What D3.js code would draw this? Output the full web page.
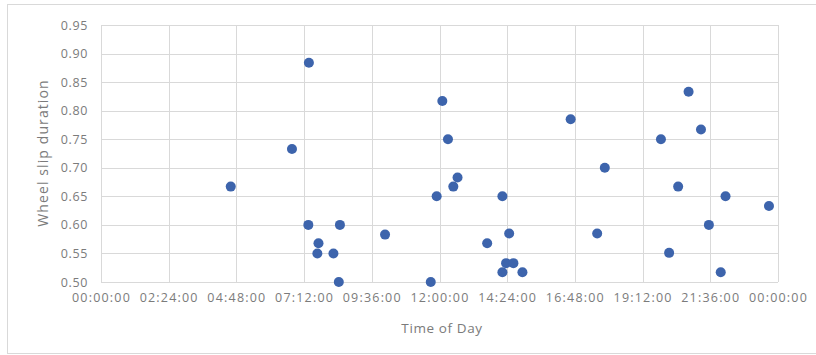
<!DOCTYPE html>
<html>
<head>
<meta charset="utf-8">
<script src="https://cdn.jsdelivr.net/npm/d3@7"></script>
<style>
  html, body { margin: 0; padding: 0; background: #fff; }
  text { font-family: "Open Sans", sans-serif; fill: #7b7b7b; }
</style>
</head>
<body>
<div id="chart"></div>
<script>
// time of day in hours, wheel slip duration
let hours = [4.6, 6.77, 7.37, 7.35, 7.71, 7.67, 8.24, 8.47, 8.43, 10.07,
    11.69, 11.9, 12.1, 12.3, 12.64, 12.49, 13.69, 14.23, 14.47, 14.36,
    14.62, 14.23, 14.94, 16.65, 17.59, 17.86, 19.85, 20.14, 20.46, 20.83,
    21.27, 21.55, 21.97, 22.14, 23.68];
let durations = [0.667, 0.733, 0.884, 0.60, 0.568, 0.55, 0.55, 0.60, 0.50, 0.583,
    0.50, 0.65, 0.817, 0.75, 0.683, 0.667, 0.568, 0.65, 0.585, 0.533,
    0.533, 0.517, 0.517, 0.785, 0.585, 0.70, 0.75, 0.551, 0.667, 0.833,
    0.767, 0.60, 0.517, 0.65, 0.633];
let xTicks = [0, 2.4, 4.8, 7.2, 9.6, 12, 14.4, 16.8, 19.2, 21.6, 24];
let yTicks = [0.50, 0.55, 0.60, 0.65, 0.70, 0.75, 0.80, 0.85, 0.90, 0.95];

let width = 816, height = 355;
let margin = { left: 101, right: 38, top: 25, bottom: 73 };

let svg = d3.select('#chart').append('svg')
    .attr('width', width)
    .attr('height', height);

// outer chart frame
svg.append('rect')
    .attr('x', 7.5).attr('y', 4.5)
    .attr('width', width).attr('height', 349)
    .attr('fill', 'none')
    .attr('stroke', '#d9d9d9');

let x = d3.scaleLinear()
    .domain([0, 24])
    .range([margin.left, width - margin.right]);
let y = d3.scaleLinear()
    .domain([0.5, 0.95])
    .range([height - margin.bottom, margin.top]);

function fmtTime(h) {
    let total = Math.round(h * 60) % (24 * 60);
    let hh = Math.floor(total / 60), mm = total % 60;
    return d3.format('02d')(hh) + ':' + d3.format('02d')(mm) + ':00';
}

// grid
let grid = svg.append('g');
grid.selectAll('.gx')
    .data(xTicks)
    .enter().append('line')
        .attr('x1', d => Math.round(x(d)) + 0.5)
        .attr('x2', d => Math.round(x(d)) + 0.5)
        .attr('y1', y(0.95))
        .attr('y2', y(0.5))
        .attr('stroke', '#d9d9d9');
grid.selectAll('.gy')
    .data(yTicks)
    .enter().append('line')
        .attr('x1', x(0))
        .attr('x2', x(24))
        .attr('y1', d => Math.round(y(d)) + 0.5)
        .attr('y2', d => Math.round(y(d)) + 0.5)
        .attr('stroke', '#d9d9d9');

// axes (labels only)
let xAxis = d3.axisBottom(x)
    .tickValues(xTicks)
    .tickFormat(fmtTime)
    .tickSize(0)
    .tickPadding(11);
let xAxisGroup = svg.append('g')
    .attr('transform', 'translate(0,' + y(0.5) + ')')
    .call(xAxis);

let yAxis = d3.axisLeft(y)
    .tickValues(yTicks)
    .tickFormat(d3.format('.2f'))
    .tickSize(0)
    .tickPadding(13);
let yAxisGroup = svg.append('g')
    .attr('transform', 'translate(' + x(0) + ',0)')
    .call(yAxis);

[xAxisGroup, yAxisGroup].forEach(function(g) {
    g.select('.domain').remove();
    g.selectAll('text')
        .attr('fill', '#7b7b7b')
        .style('font-family', '"Open Sans", sans-serif')
        .style('font-size', '12.5px');
});
xAxisGroup.selectAll('text').style('letter-spacing', '1.2px');
yAxisGroup.selectAll('text').style('letter-spacing', '0.6px');

// titles
svg.append('text')
    .attr('x', 442)
    .attr('y', 333)
    .attr('text-anchor', 'middle')
    .style('font-size', '13.5px')
    .style('letter-spacing', '0.6px')
    .text('Time of Day');

svg.append('text')
    .attr('transform', 'translate(48,153) rotate(-90)')
    .attr('text-anchor', 'middle')
    .style('font-size', '14px')
    .style('letter-spacing', '1.1px')
    .text('Wheel slip duration');

// points
let data = hours.map((h, i) => ({ h: h, v: durations[i] }));
svg.append('g')
    .selectAll('circle')
    .data(data)
    .enter().append('circle')
        .attr('cx', d => x(d.h))
        .attr('cy', d => y(d.v))
        .attr('r', 5)
        .attr('fill', '#3d64ac');
</script>
</body>
</html>
